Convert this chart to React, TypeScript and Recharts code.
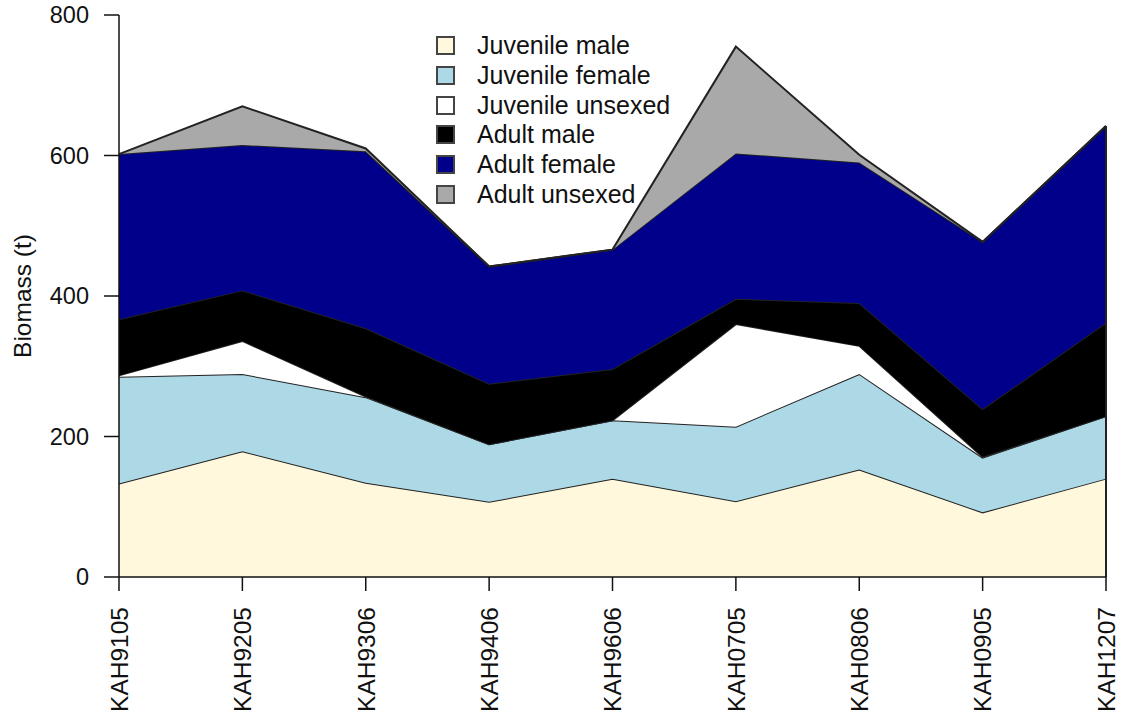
import React from "react";
import {
  AreaChart,
  Area,
  XAxis,
  YAxis,
  Legend,
  ReferenceLine,
} from "recharts";

const surveys = [
  "KAH9105",
  "KAH9205",
  "KAH9306",
  "KAH9406",
  "KAH9606",
  "KAH0705",
  "KAH0806",
  "KAH0905",
  "KAH1207",
];

// biomass (t) per group
const juvenileMale = [133, 179, 134, 107, 140, 108, 153, 92, 140];
const juvenileFemale = [152, 110, 122, 82, 83, 106, 136, 78, 89];
const juvenileUnsexed = [2, 47, 1, 0, 0, 146, 40, 1, 0];
const adultMale = [80, 72, 97, 86, 73, 36, 61, 68, 133];
const adultFemale = [235, 207, 252, 167, 170, 207, 200, 238, 280];
const adultUnsexed = [0, 55, 4, 0, 0, 152, 11, 0, 0];

const yTicks = [0, 200, 400, 600, 800];

const SERIES = [
  { key: "jm", name: "Juvenile male", values: juvenileMale, color: "#fff8dc" },
  { key: "jf", name: "Juvenile female", values: juvenileFemale, color: "#add8e6" },
  { key: "ju", name: "Juvenile unsexed", values: juvenileUnsexed, color: "#ffffff" },
  { key: "am", name: "Adult male", values: adultMale, color: "#000000" },
  { key: "af", name: "Adult female", values: adultFemale, color: "#00008b" },
  { key: "au", name: "Adult unsexed", values: adultUnsexed, color: "#a9a9a9" },
];

const data = surveys.map((s, i) => {
  const row: Record<string, any> = { survey: s };
  SERIES.forEach((ser) => {
    row[ser.key] = ser.values[i];
  });
  return row;
});

const lastTotal = SERIES.reduce(
  (sum, ser) => sum + ser.values[ser.values.length - 1],
  0
);

const FONT = "'Liberation Sans', Arial, sans-serif";
const INK = "#111";

function XTick({ x, y, payload }: any) {
  return (
    <text
      x={x}
      y={y}
      transform={`rotate(-90, ${x}, ${y})`}
      textAnchor="end"
      dy="0.36em"
      fontSize={24.5}
      fontFamily={FONT}
      fill={INK}
    >
      {payload.value}
    </text>
  );
}

function LegendBox() {
  return (
    <div style={{ fontFamily: FONT, fontSize: 25, color: INK, lineHeight: 1 }}>
      {SERIES.map((s) => (
        <div
          key={s.key}
          style={{ display: "flex", alignItems: "center", height: 29.7 }}
        >
          <span
            style={{
              display: "inline-block",
              width: 15,
              height: 15,
              background: s.color,
              border: "2px solid #444",
              marginRight: 22,
              flex: "none",
            }}
          />
          <span style={{ whiteSpace: "nowrap" }}>{s.name}</span>
        </div>
      ))}
    </div>
  );
}

export default function App() {
  return (
    <div style={{ position: "absolute", left: 0, top: 0, background: "#fff" }}>
      <AreaChart
        width={1123}
        height={717}
        data={data}
        margin={{ top: 15, right: 17, bottom: 10, left: 39 }}
      >
        <XAxis
          dataKey="survey"
          height={130}
          tickSize={14}
          tickMargin={16}
          tick={<XTick />}
          interval={0}
          stroke={INK}
          strokeWidth={1.5}
        />
        <YAxis
          width={80}
          domain={[0, 800]}
          ticks={yTicks}
          tickSize={15}
          tickMargin={15}
          stroke={INK}
          strokeWidth={1.5}
          tick={{ fontSize: 23.5, fontFamily: FONT, fill: INK }}
          label={{
            content: ({ viewBox }: any) => {
              const cx = viewBox.x - 16.5;
              const cy = viewBox.y + viewBox.height / 2;
              return (
                <text
                  x={cx}
                  y={cy}
                  transform={`rotate(-90, ${cx}, ${cy})`}
                  textAnchor="middle"
                  dominantBaseline="central"
                  fontSize={24.5}
                  fontFamily={FONT}
                  fill={INK}
                >
                  Biomass (t)
                </text>
              );
            },
          }}
        />
        {SERIES.map((s) => (
          <Area
            key={s.key}
            type="linear"
            dataKey={s.key}
            name={s.name}
            stackId="1"
            fill={s.color}
            fillOpacity={1}
            stroke="#222"
            strokeWidth={2}
            isAnimationActive={false}
          />
        ))}
        <ReferenceLine
          segment={[
            { x: surveys[surveys.length - 1], y: 0 },
            { x: surveys[surveys.length - 1], y: lastTotal },
          ]}
          stroke="#222"
          strokeWidth={2}
        />
        <Legend
          layout="horizontal"
          verticalAlign="middle"
          align="center"
          content={<LegendBox />}
          wrapperStyle={{ position: "absolute", left: 436, top: 31, width: 300 }}
        />
      </AreaChart>
    </div>
  );
}
